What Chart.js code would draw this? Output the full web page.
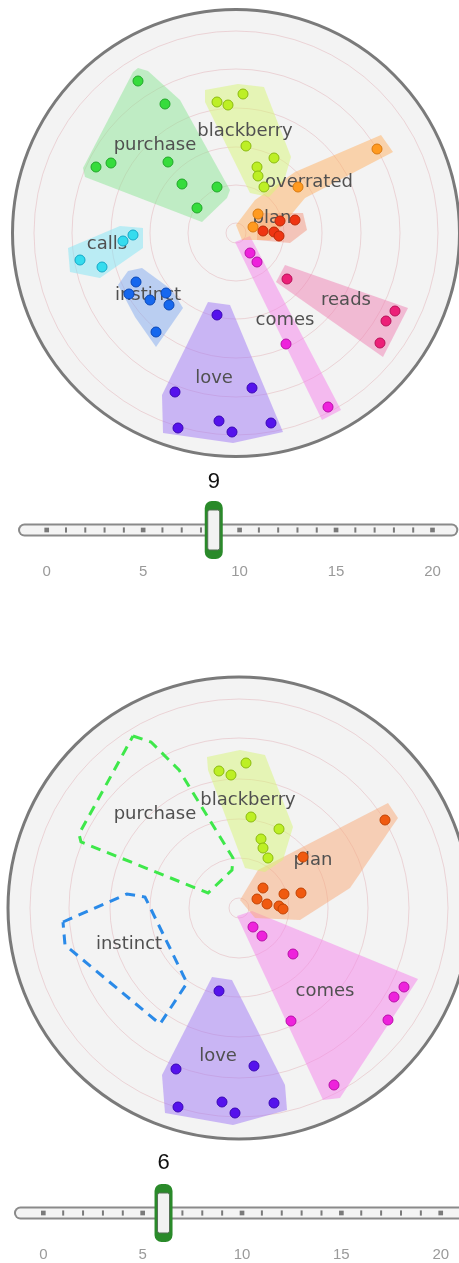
<!DOCTYPE html>
<html><head><meta charset="utf-8">
<script src="https://cdn.jsdelivr.net/npm/chart.js@4.4.0/dist/chart.umd.min.js"></script>
<style>
html,body{margin:0;padding:0;background:#fff;width:459px;height:1263px;overflow:hidden;}
.box{position:absolute;left:0;width:459px;}
canvas{display:block;}
</style></head><body>
<div class="box" style="top:0;height:460px"><canvas id="c1"></canvas></div>
<div class="box" style="top:460px;height:130px"><canvas id="s1"></canvas></div>
<div class="box" style="top:645px;height:500px"><canvas id="c2"></canvas></div>
<div class="box" style="top:1143px;height:130px"><canvas id="s2"></canvas></div>
<script>
// ---------------- DATA (embedding coordinates, disc centre = 0,0) ----------------
// Upper panel: k = 9 clusters
const topPurchasePts   = [[-98,152],[-71,129],[-140,66],[-125,70],[-68,71],[-54,49],[-19,46],[-39,25]];
const topPurchaseHull  = [[-98,165],[-88,162],[-56,133],[-6,43],[-9,35],[-34,11],[-151,56],[-153,65],[-103,161]];
const topBlackberryPts = [[-19,131],[-8,128],[7,139],[10,87],[38,75],[21,66],[22,57],[28,46]];
const topBlackberryHull= [[-31,143],[2,149],[28,146],[55,76],[48,52],[33,36],[14,40],[-31,131]];
const topOverratedPts  = [[141,84],[62,46],[22,19],[17,6]];
const topOverratedHull = [[145,98],[157,81],[69,35],[34,-7],[6,-7],[0,8],[19,33],[59,61]];
const topPlanPts       = [[44,12],[59,13],[27,2],[38,1],[43,-3]];
const topPlanHull      = [[21,20],[67,20],[71,3],[54,-10],[21,-7]];
const topCallsPts      = [[-156,-27],[-134,-34],[-103,-2],[-113,-8]];
const topCallsHull     = [[-168,-15],[-116,7],[-93,5],[-93,-15],[-136,-45],[-166,-39]];
const topInstinctPts   = [[-100,-49],[-107,-61],[-86,-67],[-70,-60],[-67,-72],[-80,-99]];
const topInstinctHull  = [[-108,-38],[-94,-35],[-64,-57],[-53,-75],[-80,-114],[-101,-84],[-118,-52]];
const topLovePts       = [[-19,-82],[-61,-159],[16,-155],[-58,-195],[-17,-188],[-4,-199],[35,-190]];
const topLoveHull      = [[-28,-69],[-6,-72],[47,-199],[-3,-210],[-73,-200],[-74,-162]];
const topComesPts      = [[14,-20],[21,-29],[50,-111],[92,-174]];
const topComesHull     = [[-1,-9],[14,-3],[105,-177],[86,-187]];
const topReadsPts      = [[51,-46],[159,-78],[150,-88],[144,-110]];
const topReadsHull     = [[49,-32],[172,-75],[147,-124],[40,-49]];
const topLabelNames    = ['purchase','blackberry','overrated','plan','calls','instinct','love','comes','reads'];
const topLabelPos      = [[-81,88],[9,102],[73,51],[36,15],[-129,-11],[-88,-62],[-22,-145],[49,-87],[110,-67]];

// Lower panel: k = 6 clusters (purchase / instinct removed -> dashed outlines)
const botPurchaseOutline = [[-106,172],[-88,166],[-60,138],[-6,50],[-7,38],[-31,15],[-158,66],[-160,74],[-106,172]];
const botInstinctOutline = [[-176,-14],[-112,14],[-94,11],[-52,-75],[-79,-116],[-174,-37],[-176,-14]];
const botBlackberryPts = [[-20,137],[-8,133],[7,145],[12,91],[40,79],[22,69],[24,60],[29,50]];
const botBlackberryHull= [[-32,151],[1,158],[26,153],[54,81],[44,48],[26,36],[6,40],[-31,138]];
const botPlanPts       = [[146,88],[64,51],[24,20],[45,14],[62,15],[18,9],[28,4],[40,2],[44,-1]];
const botPlanHull      = [[1,8],[19,38],[149,105],[159,90],[111,20],[61,-12],[16,-10]];
const botComesPts      = [[14,-19],[23,-28],[54,-46],[165,-79],[155,-89],[149,-112],[52,-113],[95,-177]];
const botComesHull     = [[-2,-8],[13,-3],[179,-71],[101,-190],[84,-192]];
const botLovePts       = [[-20,-83],[-63,-161],[15,-158],[-61,-199],[-17,-194],[-4,-205],[35,-195]];
const botLoveHull      = [[-27,-69],[-7,-72],[46,-177],[48,-202],[-6,-217],[-74,-205],[-77,-167]];
const botLabelNames    = ['purchase','blackberry','plan','instinct','comes','love'];
const botLabelPos      = [[-84,94],[9,108],[74,48],[-110,-36],[86,-83],[-21,-148]];

// Concentric guide rings (same embedding units)
const topRings = [10,48,86,125,164,202];
const botRings = [10,50,89,129,170,209];

// Sliders
const sliderTickLabels = [0,5,10,15,20];
const sliderMajorTicks = [0,5,10,15,20];
const sliderMinorTicks = [1,2,3,4,6,7,8,9,11,12,13,14,16,17,18,19];
const kValues          = [9,6];
const handlePositions  = [8.66,6.05];
const trackExtent      = [-1.15,21];

// ---------------- STYLES ----------------
const styles = {
  purchase:  {pt:'#36dc3c', bd:'#22a62a', hull:'rgba(140,230,150,0.5)', dash:'#3ee84a'},
  blackberry:{pt:'#bdef25', bd:'#8cbb10', hull:'rgba(215,245,120,0.5)'},
  overrated: {pt:'#ff9a20', bd:'#d97a10', hull:'rgba(255,178,100,0.5)'},
  plan:      {pt:'#ef3512', bd:'#bb2a08', hull:'rgba(245,140,115,0.45)'},
  plan2:     {pt:'#f05a10', bd:'#c24404', hull:'rgba(250,170,120,0.5)'},
  calls:     {pt:'#35dcee', bd:'#15a8c8', hull:'rgba(130,230,245,0.5)'},
  instinct:  {pt:'#1668ee', bd:'#0a48b8', hull:'rgba(130,170,240,0.5)', dash:'#2a8ae8'},
  love:      {pt:'#5512ec', bd:'#3a08b4', hull:'rgba(160,120,245,0.5)'},
  comes:     {pt:'#ee22dc', bd:'#b810a8', hull:'rgba(245,130,235,0.5)'},
  reads:     {pt:'#ec2078', bd:'#b81058', hull:'rgba(240,130,180,0.5)'}
};
Chart.defaults.font.family = "'Liberation Sans', Arial, sans-serif";

const xy = arr => arr.map(([x,y]) => ({x, y}));

function hullDs(pts, st) {
  return {type:'line', role:'hull', data: xy(pts), fill:'shape', backgroundColor: st.hull,
          borderColor:'rgba(0,0,0,0)', borderWidth:0, pointRadius:0, tension:0, order:2};
}
function dashDs(pts, st) {
  return {type:'line', role:'hull', data: xy(pts), fill:false, borderColor: st.dash, borderWidth:3,
          borderDash:[10,7], pointRadius:0, tension:0, order:2};
}
function ptsDs(pts, st) {
  return {type:'scatter', role:'points', data: xy(pts), pointRadius:5, backgroundColor: st.pt,
          borderColor: st.bd, borderWidth:1, order:1};
}

const topDatasets = [
  hullDs(topPurchaseHull, styles.purchase), hullDs(topBlackberryHull, styles.blackberry),
  hullDs(topOverratedHull, styles.overrated), hullDs(topPlanHull, styles.plan),
  hullDs(topCallsHull, styles.calls), hullDs(topInstinctHull, styles.instinct),
  hullDs(topLoveHull, styles.love), hullDs(topComesHull, styles.comes), hullDs(topReadsHull, styles.reads),
  ptsDs(topPurchasePts, styles.purchase), ptsDs(topBlackberryPts, styles.blackberry),
  ptsDs(topOverratedPts, styles.overrated), ptsDs(topPlanPts, styles.plan),
  ptsDs(topCallsPts, styles.calls), ptsDs(topInstinctPts, styles.instinct),
  ptsDs(topLovePts, styles.love), ptsDs(topComesPts, styles.comes), ptsDs(topReadsPts, styles.reads)
];
const botDatasets = [
  dashDs(botPurchaseOutline, styles.purchase), dashDs(botInstinctOutline, styles.instinct),
  hullDs(botBlackberryHull, styles.blackberry), hullDs(botPlanHull, styles.plan2),
  hullDs(botComesHull, styles.comes), hullDs(botLoveHull, styles.love),
  ptsDs(botBlackberryPts, styles.blackberry), ptsDs(botPlanPts, styles.plan2),
  ptsDs(botComesPts, styles.comes), ptsDs(botLovePts, styles.love)
];

// ---------------- PLUGINS ----------------
const discPlugin = {
  id:'disc',
  beforeDatasetsDraw(chart, args, o) {
    const {ctx} = chart, X = chart.scales.x, Y = chart.scales.y;
    const cx = X.getPixelForValue(0), cy = Y.getPixelForValue(0);
    const r = X.getPixelForValue(o.radius) - cx;
    ctx.save();
    ctx.beginPath(); ctx.arc(cx, cy, r, 0, Math.PI*2); ctx.fillStyle = '#f3f3f3'; ctx.fill();
    ctx.strokeStyle = 'rgba(225,170,178,0.45)'; ctx.lineWidth = 1;
    o.rings.forEach(rv => { ctx.beginPath(); ctx.arc(cx, cy, X.getPixelForValue(rv) - cx, 0, Math.PI*2); ctx.stroke(); });
    ctx.beginPath(); ctx.arc(cx, cy, r, 0, Math.PI*2); ctx.lineWidth = 3; ctx.strokeStyle = '#7a7a7a'; ctx.stroke();
    ctx.restore();
    chart.$labelsDone = false;
  },
  beforeDatasetDraw(chart, args, o) {
    if (chart.$labelsDone) return;
    if (chart.data.datasets[args.index].role !== 'points') return;
    const {ctx} = chart, X = chart.scales.x, Y = chart.scales.y;
    ctx.save();
    ctx.font = '18px "DejaVu Sans"'; ctx.fillStyle = '#505050';
    ctx.textAlign = 'center'; ctx.textBaseline = 'middle';
    o.names.forEach((n, i) => ctx.fillText(n, X.getPixelForValue(o.pos[i][0]), Y.getPixelForValue(o.pos[i][1])));
    ctx.restore();
    chart.$labelsDone = true;
  }
};

function rrect(ctx, x, y, w, h, r) {
  ctx.beginPath();
  ctx.moveTo(x + r, y); ctx.lineTo(x + w - r, y); ctx.arcTo(x + w, y, x + w, y + r, r);
  ctx.lineTo(x + w, y + h - r); ctx.arcTo(x + w, y + h, x + w - r, y + h, r);
  ctx.lineTo(x + r, y + h); ctx.arcTo(x, y + h, x, y + h - r, r);
  ctx.lineTo(x, y + r); ctx.arcTo(x, y, x + r, y, r); ctx.closePath();
}
const sliderPlugin = {
  id:'slider',
  afterDatasetsDraw(chart, args, o) {
    const el = chart.getDatasetMeta(o.handleIndex).data[0];
    const hx = el.x, hy = el.y, ctx = chart.ctx, w = 18, h = 58;
    ctx.save();
    rrect(ctx, hx - w/2, hy - h/2, w, h, 7); ctx.fillStyle = '#2a8a2a'; ctx.fill();
    rrect(ctx, hx - w/2 + 3, hy - h/2 + 9, w - 6, h - 18, 2); ctx.fillStyle = '#f2f2f2'; ctx.fill();
    ctx.lineWidth = 1; ctx.strokeStyle = '#557055'; ctx.stroke();
    ctx.fillStyle = '#111'; ctx.font = '22px "Liberation Sans"'; ctx.textAlign = 'center'; ctx.textBaseline = 'middle';
    ctx.fillText(String(o.value), hx, hy - o.labelGap);
    ctx.restore();
  }
};

// ---------------- CHARTS ----------------
function discChart(id, datasets, frame, rings, names, pos) {
  return new Chart(document.getElementById(id), {
    type:'scatter',
    data:{datasets},
    options:{
      responsive:true, maintainAspectRatio:false, animation:false, events:[], devicePixelRatio:1,
      layout:{padding:0, autoPadding:false},
      scales:{
        x:{type:'linear', display:false, min:frame.xMin, max:frame.xMax},
        y:{type:'linear', display:false, min:frame.yMin, max:frame.yMax}
      },
      plugins:{legend:{display:false}, tooltip:{enabled:false},
               disc:{radius:frame.radius, rings, names, pos}}
    },
    plugins:[discPlugin]
  });
}
function sliderChart(id, frame, handlePos, kValue, labelGap) {
  const line = xy(trackExtent.map(x => [x, 0]));
  return new Chart(document.getElementById(id), {
    type:'scatter',
    data:{datasets:[
      {type:'line', data: line, borderColor:'#8a8a8a', borderWidth:13, borderCapStyle:'round', pointRadius:0, order:5},
      {type:'line', data: line, borderColor:'#f4f4f4', borderWidth:9, borderCapStyle:'round', pointRadius:0, order:4},
      {data: xy(sliderMajorTicks.map(v => [v, 0])), pointStyle:'rect', pointRadius:3.3, backgroundColor:'#7a7a7a', borderWidth:0, order:3},
      {data: xy(sliderMinorTicks.map(v => [v, 0])), pointStyle:'line', rotation:90, pointRadius:2.6, borderColor:'#7a7a7a', borderWidth:2, order:3},
      {data: xy([[handlePos, 0]]), pointRadius:0, order:1}
    ]},
    options:{
      responsive:true, maintainAspectRatio:false, animation:false, events:[], devicePixelRatio:1,
      layout:{padding:0, autoPadding:false},
      scales:{
        x:{type:'linear', position:'bottom', min:frame.xMin, max:frame.xMax,
           grid:{display:false, drawTicks:false}, border:{display:false},
           afterFit: s => { s.height = 30; },
           ticks:{stepSize:5, includeBounds:false, autoSkip:false, maxRotation:0, padding:3,
                  color:'#9a9a9a', font:{size:15},
                  callback: v => sliderTickLabels.includes(v) ? String(v) : ''}},
        y:{type:'linear', display:false, min:-1, max:2.333}
      },
      plugins:{legend:{display:false}, tooltip:{enabled:false},
               slider:{handleIndex:4, value:kValue, labelGap}}
    },
    plugins:[sliderPlugin]
  });
}

discChart('c1', topDatasets, {xMin:-236, xMax:223, yMin:-227, yMax:233, radius:223.5}, topRings, topLabelNames, topLabelPos);
sliderChart('s1', {xMin:-2.421, xMax:21.374}, handlePositions[0], kValues[0], 48);
discChart('c2', botDatasets, {xMin:-239, xMax:220, yMin:-237, yMax:263, radius:231}, botRings, botLabelNames, botLabelPos);
sliderChart('s2', {xMin:-2.18, xMax:20.92}, handlePositions[1], kValues[1], 50);
</script>
</body></html>
